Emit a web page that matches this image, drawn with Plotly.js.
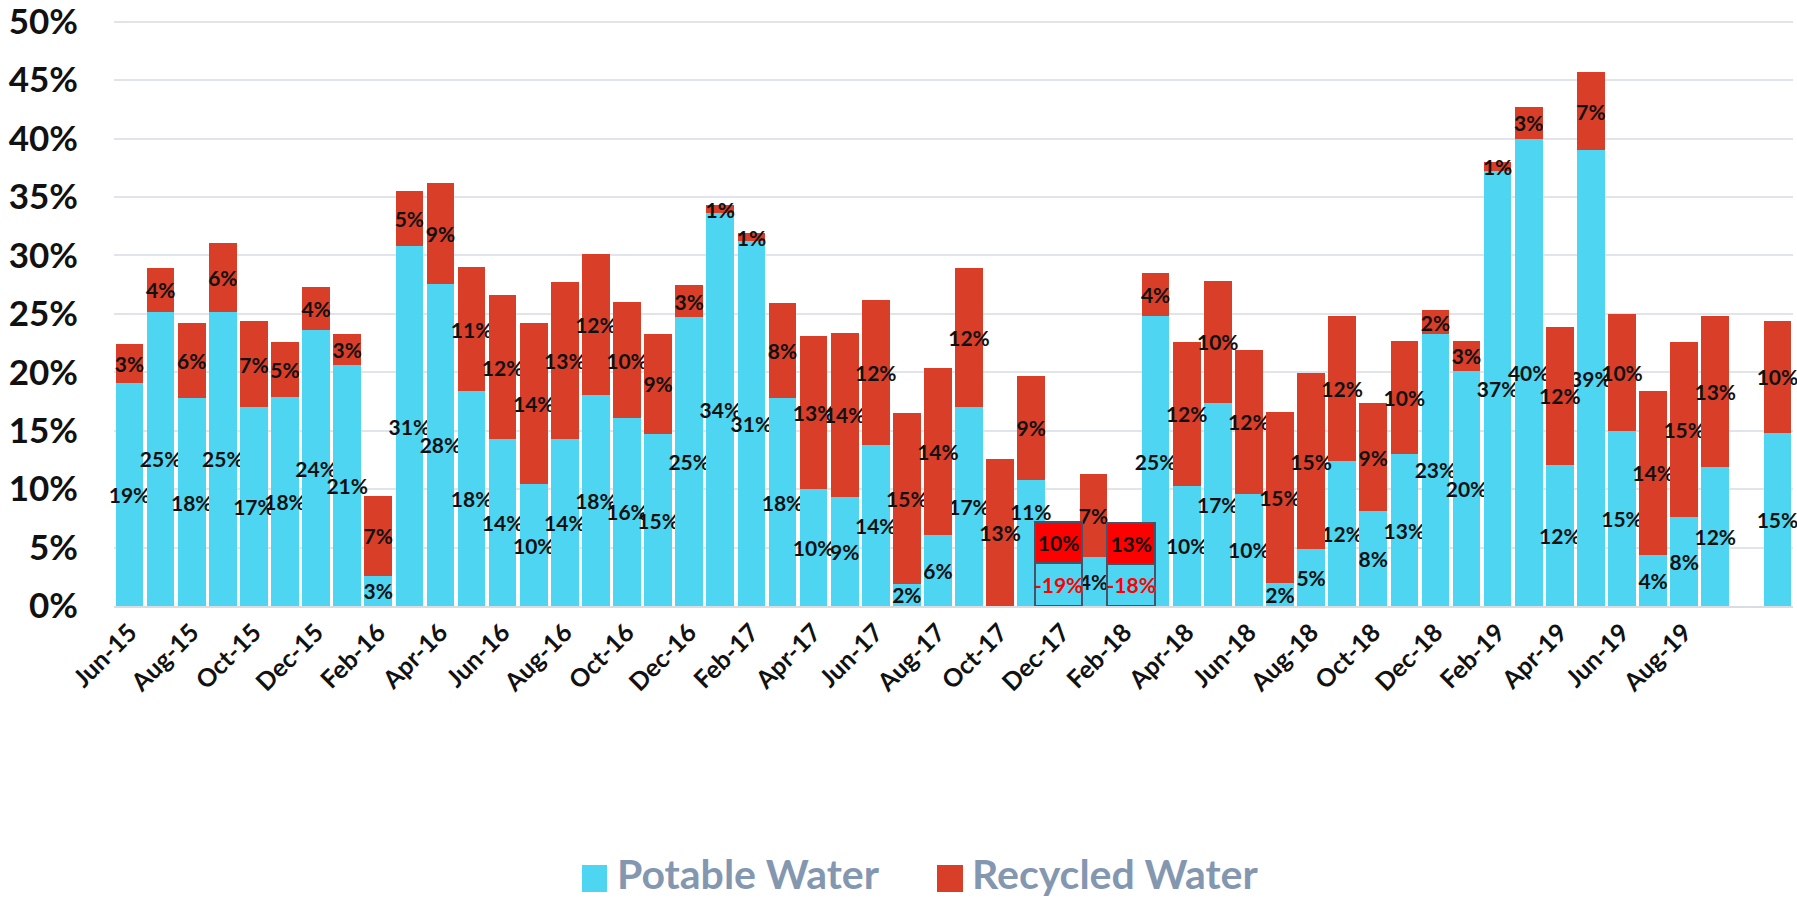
<!DOCTYPE html>
<html>
<head>
<meta charset="utf-8">
<script src="https://cdn.plot.ly/plotly-3.0.1.min.js"></script>
<style>
  html, body { margin: 0; padding: 0; background: #ffffff; }
  #chart { width: 1797px; height: 898px; }
</style>
</head>
<body>
<div id="chart"></div>
<script>
// ---------------- DATA ----------------
const categories = [
  'Jun-15','Jul-15','Aug-15','Sep-15','Oct-15','Nov-15','Dec-15',
  'Jan-16','Feb-16','Mar-16','Apr-16','May-16','Jun-16','Jul-16','Aug-16','Sep-16','Oct-16','Nov-16','Dec-16',
  'Jan-17','Feb-17','Mar-17','Apr-17','May-17','Jun-17','Jul-17','Aug-17','Sep-17','Oct-17','Nov-17','Dec-17',
  'Jan-18','Feb-18','Mar-18','Apr-18','May-18','Jun-18','Jul-18','Aug-18','Sep-18','Oct-18','Nov-18','Dec-18',
  'Jan-19','Feb-19','Mar-19','Apr-19','May-19','Jun-19','Jul-19','Aug-19','Sep-19','Oct-19','Nov-19'
];

// Potable water share (%)
const potable = [
  19.1, 25.2, 17.8, 25.2, 17.0, 17.9, 23.6,
  20.6, 2.6, 30.8, 27.6, 18.4, 14.3, 10.4, 14.3, 18.1, 16.1, 14.7, 24.7,
  33.6, 31.2, 17.8, 10.0, 9.3, 13.8, 1.9, 6.1, 17.0, null, 10.8, null,
  4.2, null, 24.8, 10.3, 17.4, 9.6, 2.0, 4.9, 12.4, 8.1, 13.0, 23.3,
  20.1, 37.2, 40.0, 12.1, 39.0, 15.0, 4.4, 7.6, 11.9, null, 14.8
];

// Recycled water share (%)
const recycled = [
  3.3, 3.7, 6.4, 5.9, 7.4, 4.7, 3.7,
  2.7, 6.8, 4.7, 8.6, 10.6, 12.3, 13.8, 13.4, 12.0, 9.9, 8.6, 2.8,
  0.7, 0.7, 8.1, 13.1, 14.1, 12.4, 14.6, 14.3, 11.9, 12.6, 8.9, null,
  7.1, null, 3.7, 12.3, 10.4, 12.3, 14.6, 15.0, 12.4, 9.3, 9.7, 2.0,
  2.6, 0.8, 2.7, 11.8, 6.7, 10.0, 14.0, 15.0, 12.9, null, 9.6
];

const tickLabels = [
  'Jun-15','Aug-15','Oct-15','Dec-15','Feb-16','Apr-16','Jun-16','Aug-16','Oct-16','Dec-16',
  'Feb-17','Apr-17','Jun-17','Aug-17','Oct-17','Dec-17','Feb-18','Apr-18','Jun-18','Aug-18',
  'Oct-18','Dec-18','Feb-19','Apr-19','Jun-19','Aug-19'
];

const yTickValues = [0, 5, 10, 15, 20, 25, 30, 35, 40, 45, 50];
const yTickLabels = ['0%', '5%', '10%', '15%', '20%', '25%', '30%', '35%', '40%', '45%', '50%'];

// Highlighted months (drawn as boxes with their own labels)
const specialMonths = ['Dec-17', 'Feb-18'];
const specialPotableHeight = [3.7, 3.6];
const specialPotableLabel = ['-19%', '-18%'];
const specialRecycledHeight = [3.5, 3.5];
const specialRecycledLabel = ['10%', '13%'];

const seriesNames = ['Potable Water', 'Recycled Water'];

// label of this month is lifted above the highlight box
const liftedLabelMonth = 'Nov-17';
const liftedLabelY = 8.1;

// ---------------- STYLE ----------------
const FONT = 'Lato, "Open Sans", "DejaVu Sans", sans-serif';
const C_POT = '#4DD5F1';
const C_REC = '#D93E29';
const C_SPECIAL_REC = '#FF0000';
const C_BORDER = '#44546A';
const C_LEGEND = '#8497B0';
const LABEL_SIZE = 21;
const specialWidth = [1.50, 1.54];
const specialOffset = [-0.87, -0.556];

const pct = v => (v === null || v === undefined) ? '' : Math.round(v) + '%';
const liftedIdx = categories.indexOf(liftedLabelMonth);
const potableText = potable.map((v, i) => i === liftedIdx ? '' : pct(v));

const textCommon = {
  textposition: 'inside',
  insidetextanchor: 'middle',
  textangle: 0,
  constraintext: 'none',
  cliponaxis: false
};
const labelFont = c => ({ family: FONT, size: LABEL_SIZE, color: c, weight: 700 });

const traces = [
  Object.assign({
    type: 'bar', name: seriesNames[0], x: categories, y: potable,
    text: potableText,
    marker: { color: C_POT, line: { width: 0 } },
    insidetextfont: labelFont('#111111'),
    hoverinfo: 'x+y+name', showlegend: false
  }, textCommon),
  Object.assign({
    type: 'bar', name: seriesNames[1], x: categories, y: recycled,
    text: recycled.map(pct),
    marker: { color: C_REC, line: { width: 0 } },
    insidetextfont: labelFont('#111111'),
    hoverinfo: 'x+y+name', showlegend: false
  }, textCommon),
  Object.assign({
    type: 'bar', name: seriesNames[0], x: specialMonths, y: specialPotableHeight,
    text: specialPotableLabel,
    width: specialWidth, offset: specialOffset,
    marker: { color: C_POT, line: { width: 2, color: C_BORDER } },
    insidetextfont: labelFont('#FF0000'),
    hoverinfo: 'text', showlegend: false
  }, textCommon),
  Object.assign({
    type: 'bar', name: seriesNames[1], x: specialMonths, y: specialRecycledHeight,
    text: specialRecycledLabel,
    width: specialWidth, offset: specialOffset,
    marker: { color: C_SPECIAL_REC, line: { width: 2, color: C_BORDER } },
    insidetextfont: labelFont('#111111'),
    hoverinfo: 'text', showlegend: false
  }, textCommon)
];

// pixel helpers for the custom legend (plot area: x 114..1793, y 20..606)
const PX0 = 114, PW = 1679, PY0 = 606, PH = 586;
const px = x => (x - PX0) / PW;
const py = y => (PY0 - y) / PH;

const layout = {
  width: 1797, height: 898, autosize: false,
  margin: { l: PX0, r: 1797 - PX0 - PW, t: PY0 - PH, b: 898 - PY0, pad: 0 },
  paper_bgcolor: '#ffffff', plot_bgcolor: '#ffffff',
  font: { family: FONT, color: '#111111' },
  barmode: 'stack',
  bargap: 0.11,
  showlegend: false,
  xaxis: {
    type: 'category',
    categoryorder: 'array', categoryarray: categories,
    range: [-0.5, categories.length - 0.5],
    tickmode: 'array', tickvals: tickLabels, ticktext: tickLabels,
    tickangle: -45,
    tickfont: { family: FONT, size: 25, color: '#111111', weight: 700 },
    ticks: '', showgrid: false,
    showline: true, linecolor: '#D9DCE2', linewidth: 2,
    zeroline: false, fixedrange: true
  },
  yaxis: {
    range: [0, 50.15],
    tickmode: 'array', tickvals: yTickValues, ticktext: yTickLabels,
    tickfont: { family: FONT, size: 35, color: '#111111', weight: 700 },
    ticks: '', ticklabelstandoff: 35, ticklabeloverflow: 'allow',
    showgrid: true, gridcolor: '#E1E4EA', gridwidth: 1.5,
    zeroline: false, showline: false, fixedrange: true
  },
  shapes: [
    { type: 'rect', xref: 'paper', yref: 'paper',
      x0: px(582), x1: px(607), y0: py(892), y1: py(865),
      fillcolor: C_POT, line: { width: 0 } },
    { type: 'rect', xref: 'paper', yref: 'paper',
      x0: px(937), x1: px(963), y0: py(892), y1: py(865),
      fillcolor: C_REC, line: { width: 0 } }
  ],
  annotations: [
    { xref: 'x', yref: 'y', x: liftedLabelMonth, y: liftedLabelY,
      text: pct(potable[liftedIdx]), showarrow: false,
      xanchor: 'center', yanchor: 'middle',
      font: labelFont('#111111') },
    { xref: 'paper', yref: 'paper', x: px(616), y: py(873), xanchor: 'left', yanchor: 'middle',
      text: seriesNames[0], showarrow: false, borderpad: 0,
      font: { family: FONT, size: 41, color: C_LEGEND, weight: 700 } },
    { xref: 'paper', yref: 'paper', x: px(971), y: py(873), xanchor: 'left', yanchor: 'middle',
      text: seriesNames[1], showarrow: false, borderpad: 0,
      font: { family: FONT, size: 41, color: C_LEGEND, weight: 700 } }
  ]
};

Plotly.newPlot('chart', traces, layout, { displayModeBar: false, responsive: false });
</script>
</body>
</html>
